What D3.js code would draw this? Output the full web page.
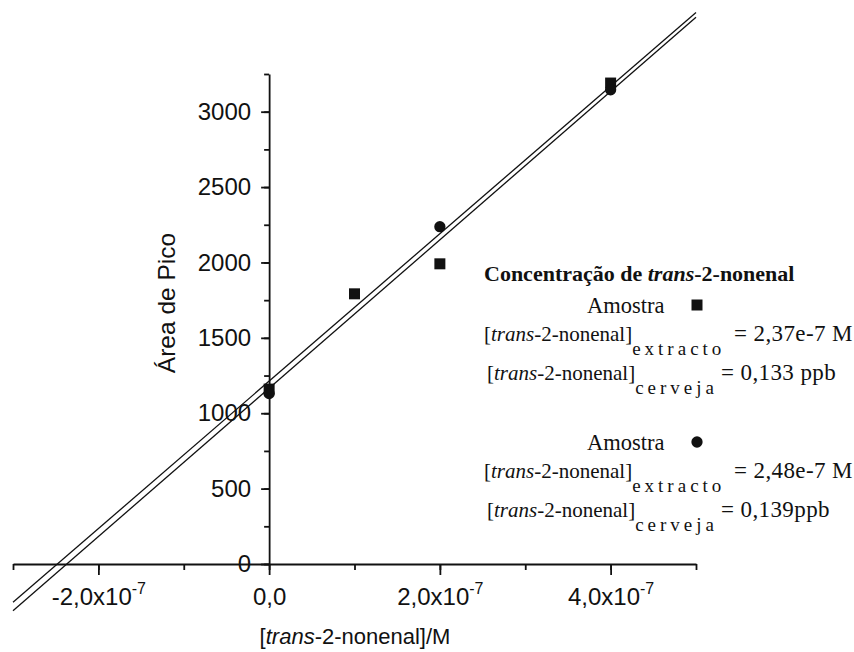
<!DOCTYPE html>
<html>
<head>
<meta charset="utf-8">
<script src="https://cdn.jsdelivr.net/npm/d3@7"></script>
<style>
  html, body { margin: 0; padding: 0; background: #fff; }
  svg { display: block; }
</style>
</head>
<body>
<svg id="chart" width="854" height="652"></svg>
<script>
// Standard additions of trans-2-nonenal (mol/L)
const concSquare = [0, 1e-7, 2e-7, 4e-7];
const areaSquare = [1160, 1792, 1991, 3190];
const concCircle = [0, 2e-7, 4e-7];
const areaCircle = [1130, 2237, 3145];

// Linear fits: slope (area per mol/L) and concentration in the extract (|x-intercept|)
const fitSlope = [4.92e9, 4.89e9];
const extractConc = [2.37e-7, 2.48e-7];
const beerConc = ["0,133 ppb", "0,139ppb"];

// Axis ticks
const xMajorTicks = [-2e-7, 0, 2e-7, 4e-7];
const xTickMantissa = ["-2,0", "0,0", "2,0", "4,0"];
const xTickExponent = ["-7", "", "-7", "-7"];
const yMajorTicks = [0, 500, 1000, 1500, 2000, 2500, 3000];

const svg = d3.select("#chart");
const sans = "'Liberation Sans', Arial, Helvetica, sans-serif";
const serif = "'Liberation Serif', 'Times New Roman', Times, serif";
const ink = "#111";

const x = d3.scaleLinear().domain([-3e-7, 5e-7]).range([13, 696]);
const y = d3.scaleLinear().domain([0, 3250]).range([564, 74]);

// ---- fit lines (pass through the x-intercept at -c) ----
const lineGen = d3.line().x(d => x(d[0])).y(d => y(d[1]));
fitSlope.forEach((m, i) => {
  const c = extractConc[i];
  const pts = x.domain().map(v => [v, m * (v + c)]);
  svg.append("path")
    .attr("d", lineGen(pts))
    .attr("fill", "none")
    .attr("stroke", ink)
    .attr("stroke-width", 1.3);
});

// ---- axes ----
function styleAxis(g) {
  g.attr("font-family", sans).attr("font-size", 24);
  g.selectAll("path, line").attr("stroke", ink).attr("stroke-width", 1.8);
  g.selectAll("text").attr("fill", ink);
}

// y axis: minor ticks every 250, labelled ticks every 500
svg.append("g")
  .attr("transform", `translate(${x(0)},0)`)
  .call(d3.axisLeft(y).tickValues(d3.range(0, 3251, 250)).tickSize(5).tickSizeOuter(0).tickFormat(""))
  .call(styleAxis);
svg.append("g")
  .attr("transform", `translate(${x(0)},0)`)
  .call(d3.axisLeft(y).tickValues(yMajorTicks).tickSize(8).tickPadding(10).tickSizeOuter(0).tickFormat(d3.format("d")))
  .call(styleAxis)
  .call(g => g.select(".domain").remove());

// x axis: minor ticks every 1e-7, labelled ticks every 2e-7
svg.append("g")
  .attr("transform", `translate(0,${y(0)})`)
  .call(d3.axisBottom(x).tickValues(d3.range(-3, 6).map(k => k * 1e-7)).tickSize(6).tickSizeOuter(0).tickFormat(""))
  .call(styleAxis);
const xMajor = svg.append("g")
  .attr("transform", `translate(0,${y(0)})`)
  .call(d3.axisBottom(x).tickValues(xMajorTicks).tickSize(11).tickSizeOuter(0).tickFormat(""))
  .call(styleAxis)
  .call(g => g.select(".domain").remove());

xMajor.selectAll(".tick text").each(function (d, i) {
  const t = d3.select(this).attr("y", 41).attr("dy", null);
  t.text(null);
  if (xTickExponent[i]) {
    t.append("tspan").text(xTickMantissa[i] + "x10");
    t.append("tspan").attr("font-size", 16).attr("dy", -11).text(xTickExponent[i]);
  } else {
    t.append("tspan").text(xTickMantissa[i]);
  }
});

// axis titles
svg.append("text")
  .attr("transform", "translate(175,303) rotate(-90)")
  .attr("text-anchor", "middle")
  .attr("font-family", sans).attr("font-size", 24.5).attr("fill", ink)
  .text("Área de Pico");

const xTitle = svg.append("text")
  .attr("x", 355).attr("y", 644)
  .attr("text-anchor", "middle")
  .attr("font-family", sans).attr("font-size", 22).attr("fill", ink);
xTitle.append("tspan").text("[");
xTitle.append("tspan").attr("font-style", "italic").text("trans");
xTitle.append("tspan").text("-2-nonenal]/M");

// ---- data points ----
const squareSym = d3.symbol(d3.symbolSquare, 121);
const circleSym = d3.symbol(d3.symbolCircle, 100);
svg.append("g").selectAll("path")
  .data(concSquare.map((c, i) => [c, areaSquare[i]]))
  .join("path")
  .attr("transform", d => `translate(${x(d[0])},${y(d[1])})`)
  .attr("d", squareSym)
  .attr("fill", ink);
svg.append("g").selectAll("path")
  .data(concCircle.map((c, i) => [c, areaCircle[i]]))
  .join("path")
  .attr("transform", d => `translate(${x(d[0])},${y(d[1])})`)
  .attr("d", circleSym)
  .attr("fill", ink);

// ---- legend / results block ----
const fmtConc = v => (v * 1e7).toFixed(2).replace(".", ",") + "e-7 M";
const legend = svg.append("g").attr("font-family", serif).attr("fill", ink);

const title = legend.append("text").attr("x", 484).attr("y", 281)
  .attr("font-size", 22).attr("font-weight", "bold");
title.append("tspan").text("Concentração de ");
title.append("tspan").attr("font-style", "italic").text("trans");
title.append("tspan").text("-2-nonenal");

function resultLine(yBase, xStart, sub, eqX, value) {
  const t = legend.append("text").attr("x", xStart).attr("y", yBase).attr("font-size", 21);
  t.append("tspan").text("[");
  t.append("tspan").attr("font-style", "italic").text("trans");
  t.append("tspan").text("-2-nonenal]");
  t.append("tspan").attr("dy", 14).attr("font-size", 19).attr("letter-spacing", 4).text(sub);
  t.append("tspan").attr("x", eqX).attr("dy", -14).attr("font-size", 23).attr("letter-spacing", 0.4).text("= " + value);
}

const blocks = [
  { top: 313, marker: squareSym },
  { top: 450, marker: circleSym }
];
blocks.forEach((b, i) => {
  legend.append("text").attr("x", 587).attr("y", b.top).attr("font-size", 22.5).text("Amostra");
  legend.append("path")
    .attr("transform", `translate(697,${b.top - 8})`)
    .attr("d", b.marker);
  resultLine(b.top + 28, 484, "extracto", 734, fmtConc(extractConc[i]));
  resultLine(b.top + 67, 487, "cerveja", 721, beerConc[i]);
});
</script>
</body>
</html>
